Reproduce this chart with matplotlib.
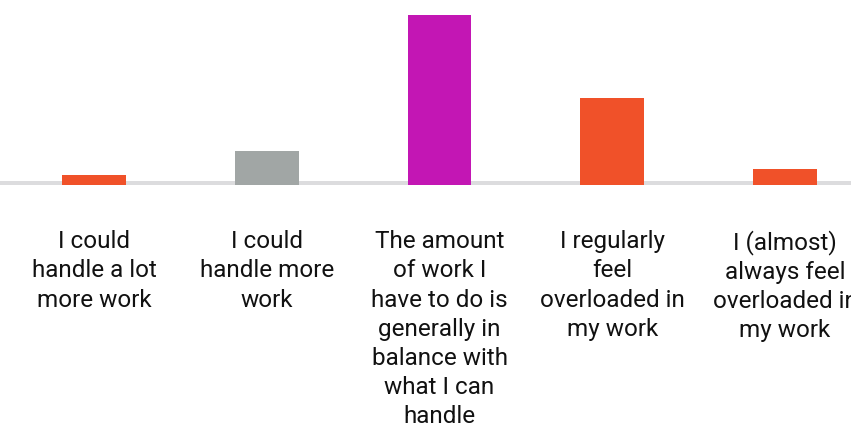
import matplotlib
matplotlib.use('Agg')
import matplotlib.pyplot as plt

categorias = [
    "I could\nhandle a lot\nmore work",
    "I could\nhandle more\nwork",
    "The amount\nof work I\nhave to do is\ngenerally in\nbalance with\nwhat I can\nhandle",
    "I regularly\nfeel\noverloaded in\nmy work",
    "I (almost)\nalways feel\noverloaded in\nmy work",
]
valores = [3.2, 10.7, 53.6, 27.4, 5.0]
colores = ['#F05129', '#A1A6A5', '#C316B4', '#F05129', '#F05129']

plt.rcParams['font.family'] = ['Roboto', 'DejaVu Sans']

fig = plt.figure(figsize=(8.51, 4.31), dpi=100)
ax = fig.add_axes([0, 245 / 431, 1, 186 / 431])

ax.bar(range(len(valores)), valores, width=0.37, color=colores, zorder=3)

# linea base gris
ymax = 58.7
px = ymax / 186
ax.axhspan(0, 4 * px, color='#DCDCDE', zorder=2, lw=0)

ax.set_xlim(-94 / 172.75, (851 - 94) / 172.75)
ax.set_ylim(0, ymax)
ax.set_xticks(range(len(categorias)))
ax.set_xticklabels(categorias, fontsize=17.5, color='#111111', linespacing=1.335)
ax.tick_params(axis='x', length=0, pad=32)
ax.set_yticks([])
for s in ax.spines.values():
    s.set_visible(False)

fig.savefig('out.png', dpi=100)
